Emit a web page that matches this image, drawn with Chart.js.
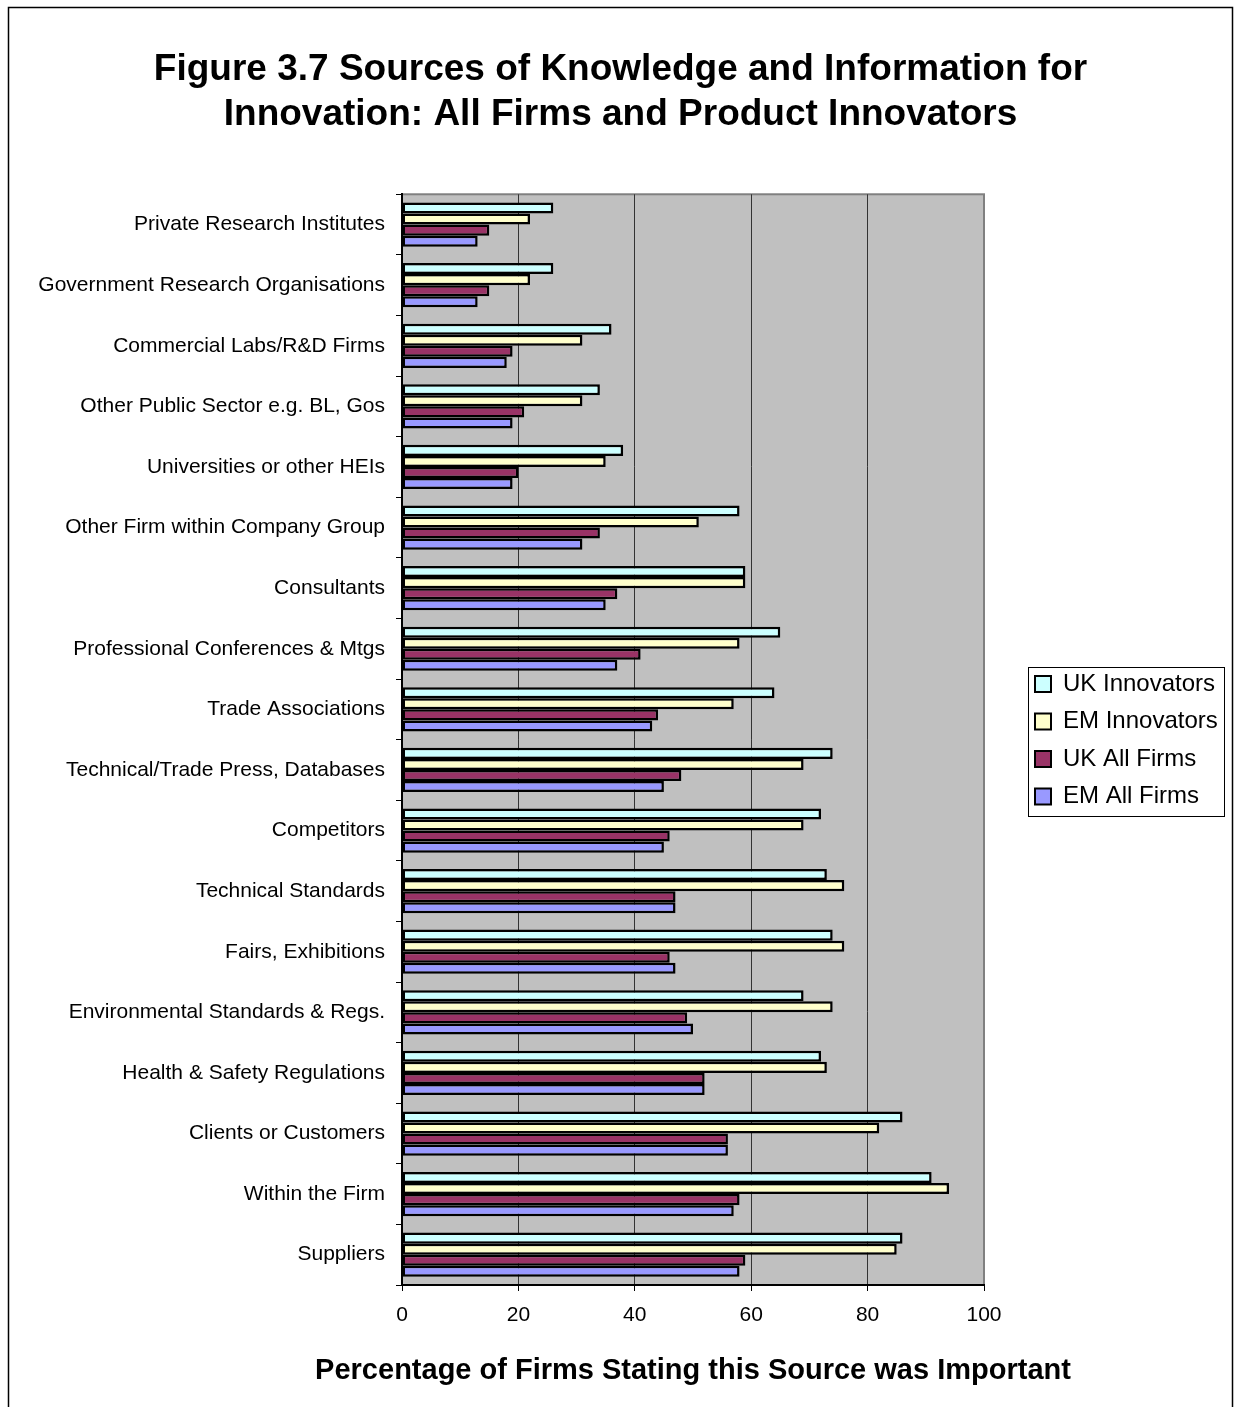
<!DOCTYPE html>
<html lang="en">
<head>
  <meta charset="UTF-8" />
  <title>Figure 3.7 Sources of Knowledge and Information for Innovation</title>
  <script src="https://cdn.jsdelivr.net/npm/chart.js"></script>
  <style>
    html, body { margin: 0; padding: 0; background: #fff; }
    #wrap { width: 1241px; height: 1407px; }
  </style>
</head>
<body>
  <div id="wrap"><canvas id="sourcesChart" width="1241" height="1407"></canvas></div>

  <script>
    const FONT = 'Arial, "Liberation Sans", sans-serif';

    const sources = [
      'Private Research Institutes',
      'Government Research Organisations',
      'Commercial Labs/R&D Firms',
      'Other Public Sector e.g. BL, Gos',
      'Universities or other HEIs',
      'Other Firm within Company Group',
      'Consultants',
      'Professional Conferences & Mtgs',
      'Trade Associations',
      'Technical/Trade Press, Databases',
      'Competitors',
      'Technical Standards',
      'Fairs, Exhibitions',
      'Environmental Standards & Regs.',
      'Health & Safety Regulations',
      'Clients or Customers',
      'Within the Firm',
      'Suppliers'
    ];

    const ukInnovators = [26, 26, 36, 34, 38, 58, 59, 65, 64, 74, 72, 73, 74, 69, 72, 86, 91, 86];
    const emInnovators = [22, 22, 31, 31, 35, 51, 59, 58, 57, 69, 69, 76, 76, 74, 73, 82, 94, 85];
    const ukAllFirms   = [15, 15, 19, 21, 20, 34, 37, 41, 44, 48, 46, 47, 46, 49, 52, 56, 58, 59];
    const emAllFirms   = [13, 13, 18, 19, 19, 31, 35, 37, 43, 45, 45, 47, 47, 50, 52, 56, 57, 58];

    const xTicks = [0, 20, 40, 60, 80, 100];
    const xTitle = 'Percentage of Firms Stating this Source was Important';

    const LEGEND_PAD = 13.5;

    // grey plot area, outer frame, legend placement, legend box and the x axis title
    // (the title is wider than the plot, so it is drawn here rather than squeezed by the scale)
    const framePlugin = {
      id: 'framePlugin',
      beforeLayout(chart) {
        const legend = chart.legend;
        if (legend && !legend._fixedWidth) {
          const fit = legend.fit;
          legend.fit = function () {
            fit.call(this);
            this.width = 257;
          };
          legend._fixedWidth = true;
        }
      },
      afterLayout(chart) {
        const legend = chart.legend;
        legend.left = 1035 - LEGEND_PAD;
        legend.right = chart.width;
        legend.top = 672 - LEGEND_PAD;
        legend.bottom = chart.height;
      },
      beforeDraw(chart) {
        const { ctx, chartArea: a } = chart;
        ctx.save();
        ctx.fillStyle = '#c0c0c0';
        ctx.fillRect(a.left, a.top, a.right - a.left, a.bottom - a.top);
        ctx.strokeStyle = '#808080';
        ctx.lineWidth = 2;
        ctx.strokeRect(a.left, a.top, a.right - a.left, a.bottom - a.top);
        ctx.strokeStyle = '#000';
        ctx.lineWidth = 1.5;
        ctx.strokeRect(8.5, 7.5, 1224, 1420);
        ctx.restore();
      },
      afterDraw(chart) {
        const { ctx } = chart;
        const xs = chart.scales.x;
        ctx.save();
        ctx.fillStyle = '#000';
        ctx.font = 'bold 29px ' + FONT;
        ctx.textAlign = 'center';
        ctx.textBaseline = 'middle';
        ctx.fillText(xTitle, (xs.left + xs.right) / 2, xs.bottom - 36);

        const boxes = chart.legend.legendHitBoxes;
        if (boxes && boxes.length) {
          const left = Math.min(...boxes.map(b => b.left)) - 7;
          const right = Math.max(...boxes.map(b => b.left + b.width)) + 6;
          const top = Math.min(...boxes.map(b => b.top)) - 5;
          const bottom = Math.max(...boxes.map(b => b.top + b.height)) + 7;
          ctx.strokeStyle = '#000';
          ctx.lineWidth = 1;
          ctx.strokeRect(Math.round(left) + 0.5, Math.round(top) + 0.5,
                         Math.round(right - left), Math.round(bottom - top));
        }
        ctx.restore();
      }
    };

    const barStyle = { borderColor: '#000', borderWidth: 2.5, borderSkipped: false,
                       categoryPercentage: 0.73, barPercentage: 1.0 };

    new Chart(document.getElementById('sourcesChart'), {
      type: 'bar',
      data: {
        labels: sources,
        datasets: [
          { label: 'UK Innovators', data: ukInnovators, backgroundColor: '#ccffff', ...barStyle },
          { label: 'EM Innovators', data: emInnovators, backgroundColor: '#ffffcc', ...barStyle },
          { label: 'UK All Firms', data: ukAllFirms, backgroundColor: '#993366', ...barStyle },
          { label: 'EM All Firms', data: emAllFirms, backgroundColor: '#9999ff', ...barStyle }
        ]
      },
      options: {
        indexAxis: 'y',
        responsive: false,
        animation: false,
        layout: { padding: 0 },
        plugins: {
          title: {
            display: true,
            text: ['Figure 3.7 Sources of Knowledge and Information for',
                   'Innovation: All Firms and Product Innovators'],
            color: '#000',
            font: { family: FONT, size: 37, weight: 'bold', lineHeight: 1.22 },
            padding: { top: 47, bottom: 57 }
          },
          legend: {
            position: 'right',
            align: 'start',
            labels: {
              color: '#000',
              font: { family: FONT, size: 24 },
              boxWidth: 16,
              boxHeight: 16,
              padding: LEGEND_PAD,
              generateLabels(chart) {
                return chart.data.datasets.map((ds, i) => ({
                  text: ds.label,
                  fillStyle: ds.backgroundColor,
                  strokeStyle: '#000',
                  lineWidth: 2,
                  datasetIndex: i
                }));
              }
            }
          },
          tooltip: { enabled: false }
        },
        scales: {
          x: {
            min: 0,
            max: 100,
            afterBuildTicks(scale) { scale.ticks = xTicks.map(v => ({ value: v })); },
            afterFit(scale) { scale.height = 122; },
            border: { color: '#000', width: 2 },
            grid: {
              color: ctx => (ctx.tick && ctx.tick.value === 100) ? '#808080' : '#333',
              lineWidth: 1,
              tickColor: '#000',
              tickLength: 6
            },
            ticks: { color: '#000', font: { family: FONT, size: 21 }, padding: 12 }
          },
          y: {
            afterFit(scale) { scale.width = 402; },
            border: { color: '#000', width: 2 },
            grid: {
              offset: true,
              drawOnChartArea: false,
              color: '#000',
              tickLength: 6
            },
            ticks: { color: '#000', font: { family: FONT, size: 21 }, padding: 11 }
          }
        }
      },
      plugins: [framePlugin]
    });
  </script>
</body>
</html>
